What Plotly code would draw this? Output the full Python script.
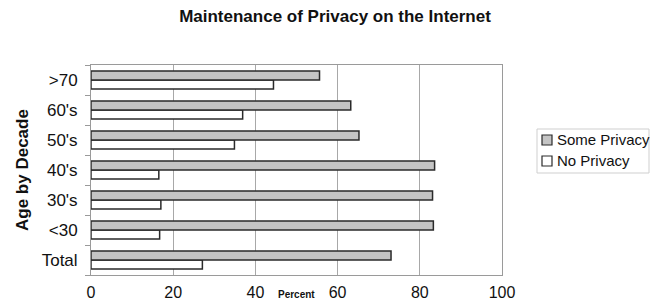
import plotly.graph_objects as go

categories = ["Total", "<30", "30's", "40's", "50's", "60's", ">70"]
some_privacy = [73.0, 83.3, 83.1, 83.6, 65.2, 63.2, 55.6]
no_privacy = [27.1, 16.7, 17.0, 16.5, 34.9, 36.9, 44.4]
x_ticks = [0, 20, 40, 60, 80, 100]
series_names = ["Some Privacy", "No Privacy"]
series_fills = ["#c4c4c4", "#ffffff"]

FONT = "Liberation Sans, Arial, sans-serif"
EDGE = "#2a2a2a"
L, R, T, B = 91, 502, 65, 275
W, H = 655, 302
PW, PH = R - L, B - T


def px_x(x):
    return (x - L) / PW


def px_y(y):
    return (B - y) / PH


fig = go.Figure()
fig.add_trace(go.Bar(
    y=categories, x=no_privacy, orientation="h", name=series_names[1],
    marker=dict(color=series_fills[1], line=dict(color=EDGE, width=1.5)),
    showlegend=False,
))
fig.add_trace(go.Bar(
    y=categories, x=some_privacy, orientation="h", name=series_names[0],
    marker=dict(color=series_fills[0], line=dict(color=EDGE, width=1.5)),
    showlegend=False,
))

fig.update_layout(
    width=W, height=H,
    margin=dict(l=L, r=W - R, t=T, b=H - B, autoexpand=False),
    paper_bgcolor="white", plot_bgcolor="white",
    barmode="group", bargap=0.4, bargroupgap=0.0,
    font=dict(family=FONT, size=16, color="#111"),
    title=dict(text="<b>Maintenance of Privacy on the Internet</b>",
               x=335 / W, xanchor="center", y=1 - 16 / H, yanchor="middle",
               font=dict(family=FONT, size=17, color="#111")),
    showlegend=False,
)
fig.update_xaxes(
    range=[0, 100], tickvals=x_ticks, ticktext=[str(v) for v in x_ticks],
    showgrid=True, gridcolor="#a8a8a8", gridwidth=1,
    showline=True, linecolor="#9a9a9a", linewidth=1, mirror=True,
    ticks="", ticklabelstandoff=3, zeroline=False, automargin=False,
    tickfont=dict(family=FONT, size=16, color="#111"),
)
fig.update_yaxes(
    categoryorder="array", categoryarray=categories,
    showline=True, linecolor="#9a9a9a", linewidth=1, mirror=True,
    ticks="outside", tickson="boundaries", ticklen=5, tickcolor="#9a9a9a",
    showgrid=False, ticklabelstandoff=9, automargin=False,
    tickfont=dict(family=FONT, size=17, color="#111"),
)
# y axis title
fig.add_annotation(
    text="<b>Age by Decade</b>", xref="paper", yref="paper",
    x=px_x(22), y=0.5, xanchor="center", yanchor="middle", textangle=-90,
    showarrow=False, font=dict(family=FONT, size=17, color="#111"),
)
# x axis title
fig.add_annotation(
    text="<b>Percent</b>", xref="paper", yref="paper",
    x=0.5, y=px_y(294), xanchor="center", yanchor="middle",
    showarrow=False, font=dict(family=FONT, size=10, color="#111"),
)
# legend (drawn manually to match the compact swatches)
fig.add_shape(type="rect", xref="paper", yref="paper",
              x0=px_x(537), x1=px_x(649), y0=px_y(129), y1=px_y(173),
              line=dict(color="#cfcfcf", width=1), fillcolor="white")
for i, (name, fill) in enumerate(zip(series_names, series_fills)):
    cy = 139 + 21 * i
    fig.add_shape(type="rect", xref="paper", yref="paper",
                  x0=px_x(542), x1=px_x(552), y0=px_y(cy - 4), y1=px_y(cy + 6),
                  line=dict(color=EDGE, width=1.2), fillcolor=fill)
    fig.add_annotation(text=name, xref="paper", yref="paper",
                       x=px_x(555), y=px_y(cy), xanchor="left", yanchor="middle",
                       showarrow=False, font=dict(family=FONT, size=15, color="#111"))

fig.write_html("out.html", config={"displayModeBar": False},
               post_script="document.body.style.margin='0';document.body.style.overflow='hidden';")
